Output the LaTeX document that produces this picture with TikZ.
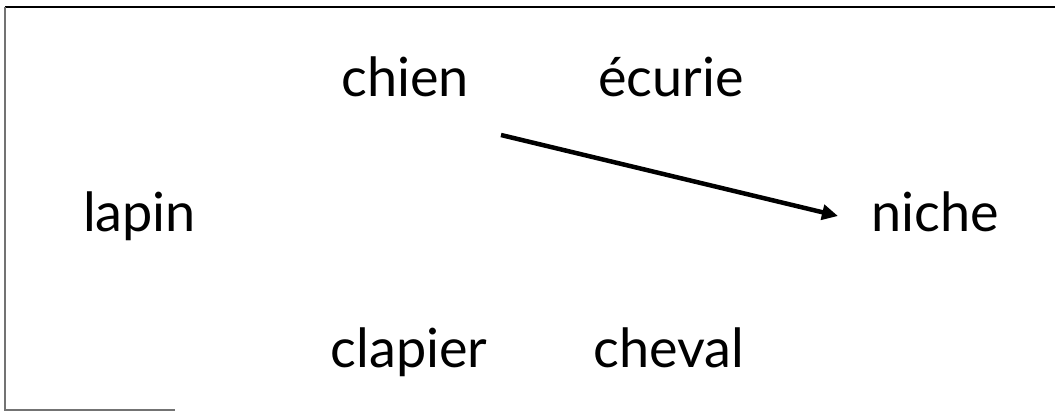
\documentclass[tikz,border=0pt]{standalone}
\usepackage{fontspec}
\setmainfont{Lato}
\usetikzlibrary{arrows.meta}
\begin{document}
\begin{tikzpicture}[x=1pt,y=-1pt,
  word/.style={anchor=base,inner sep=0pt,font=\fontsize{54}{60}\selectfont},
  link/.style={line width=4.5pt,-{Triangle[length=16pt,width=15pt]}},
  frame/.style={line width=1.5pt,draw=black!55}]
\useasboundingbox (0,0) rectangle (1055,411);
\fill[white] (0,0) rectangle (1055,411);
\draw[line width=1.8pt] (5,7) -- (1055,7);
\draw[frame] (5,7) -- (5,410) -- (175,410);
\node[word] (chien) at (405,97) {chien};
\node[word] (ecurie) at (671,97) {écurie};
\node[word] (lapin) at (139.5,232) {lapin};
\node[word] (niche) at (935,232) {niche};
\node[word] (clapier) at (409,368) {clapier};
\node[word] (cheval) at (669,368) {cheval};
\coordinate (from) at (501,135);
\coordinate (to) at (838,216);
\draw[link] (from) -- (to);
\end{tikzpicture}
\end{document}
